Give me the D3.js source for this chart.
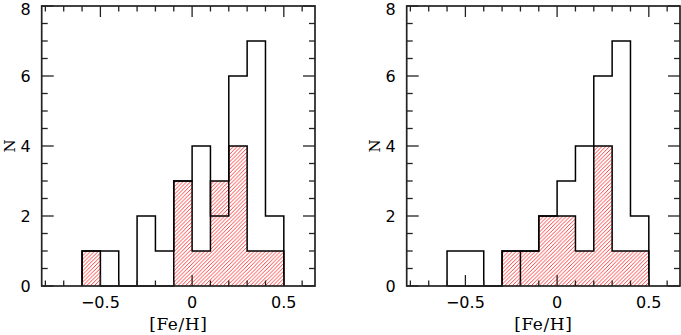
<!DOCTYPE html>
<html><head><meta charset="utf-8">
<script src="https://cdn.jsdelivr.net/npm/d3@7"></script>
<style>
body{margin:0;background:#fff;}
svg{display:block;}
</style></head>
<body>
<svg id="c" width="681" height="335"></svg>
<script>
// ---- data ----
const binEdges = [-0.6,-0.5,-0.4,-0.3,-0.2,-0.1,0,0.1,0.2,0.3,0.4,0.5];
const leftTotal  = [1,1,0,2,1,3,4,2,6,7,2];
const leftSub    = [1,0,0,0,0,3,1,3,4,1,1];
const rightTotal = [1,1,0,1,1,2,3,4,6,7,2];
const rightSub   = [0,0,0,1,1,2,2,1,4,1,1];
const leftDividers = [];
const rightDividers = [-0.2];
const xTickMajor = [-0.5, 0, 0.5];
const xTickLabels = ["\u22120.5", "0", "0.5"];
const xTickMinor = [-0.8,-0.7,-0.6,-0.4,-0.3,-0.2,-0.1,0.1,0.2,0.3,0.4,0.6];
const yTickMajor = [0,2,4,6,8];
const yTickMinor = [0.5,1,1.5,2.5,3,3.5,4.5,5,5.5,6.5,7,7.5];
const xLabel = "[Fe/H]";
const yLabel = "N";

const svg = d3.select("#c");
const defs = svg.append("defs");
const pat = defs.append("pattern").attr("id","hatch")
  .attr("patternUnits","userSpaceOnUse").attr("width",3.8).attr("height",3.8);
pat.append("path").attr("d","M-1,1 L1,-1 M0,3.8 L3.8,0 M2.8,4.8 L4.8,2.8")
  .attr("stroke","#ff2020").attr("stroke-width",0.85).attr("fill","none");

function panel(ox, total, sub, dividers){
  const x = d3.scaleLinear().domain([-0.82,0.67]).range([ox, ox+273.3]);
  const y = d3.scaleLinear().domain([0,8]).range([286,6]);
  const g = svg.append("g");

  function stepPts(vals){
    const pts = [[binEdges[0],0]];
    vals.forEach((v,i)=>{ pts.push([binEdges[i],v]); pts.push([binEdges[i+1],v]); });
    pts.push([binEdges[binEdges.length-1],0]);
    return pts;
  }
  const line = d3.line().x(d=>x(d[0])).y(d=>y(d[1]));
  const subPts = stepPts(sub);
  g.append("path").attr("d", line(subPts)+"Z").attr("fill","url(#hatch)").attr("stroke","none");
  g.append("path").attr("d", line(subPts)).attr("fill","none").attr("stroke","#000").attr("stroke-width",1.5);
  g.append("path").attr("d", line(stepPts(total))).attr("fill","none").attr("stroke","#000").attr("stroke-width",1.5);
  dividers.forEach(dv=>{
    const i = binEdges.findIndex(e=>Math.abs(e-dv)<1e-9);
    const h = Math.min(sub[i-1], sub[i]);
    g.append("line").attr("x1",x(dv)).attr("x2",x(dv)).attr("y1",y(0)).attr("y2",y(h))
      .attr("stroke","#000").attr("stroke-width",1.5);
  });

  // ticks
  const tk = g.append("g").attr("stroke","#222").attr("stroke-width",1.3);
  const xt = xTickMajor.map(v=>[v,11]).concat(xTickMinor.map(v=>[v,5.5]));
  xt.forEach(([v,l])=>{
    tk.append("line").attr("x1",x(v)).attr("x2",x(v)).attr("y1",y(0)).attr("y2",y(0)-l);
    tk.append("line").attr("x1",x(v)).attr("x2",x(v)).attr("y1",y(8)).attr("y2",y(8)+l);
  });
  const yt = yTickMajor.map(v=>[v,12]).concat(yTickMinor.map(v=>[v,6]));
  const [x0,x1] = x.range();
  yt.forEach(([v,l])=>{
    tk.append("line").attr("x1",x0).attr("x2",x0+l).attr("y1",y(v)).attr("y2",y(v));
    tk.append("line").attr("x1",x1).attr("x2",x1-l).attr("y1",y(v)).attr("y2",y(v));
  });
  // frame
  g.append("rect").attr("x",x0).attr("y",y(8)).attr("width",x1-x0).attr("height",y(0)-y(8))
    .attr("fill","none").attr("stroke","#222").attr("stroke-width",1.7);

  // labels
  const tf = "'DejaVu Sans', sans-serif";
  xTickMajor.forEach((v,i)=>{
    g.append("text").attr("x",x(v)).attr("y",308).attr("text-anchor","middle")
      .attr("font-family",tf).attr("font-size",16).attr("fill","#000").text(xTickLabels[i]);
  });
  yTickMajor.forEach(v=>{
    g.append("text").attr("x",x0-11).attr("y",Math.max(y(v),9)).attr("dy","0.36em").attr("text-anchor","end")
      .attr("font-family",tf).attr("font-size",16).attr("fill","#000").text(String(v));
  });
  g.append("text").attr("x",(x0+x1)/2).attr("y",330).attr("text-anchor","middle")
    .attr("font-family","'DejaVu Serif', serif").attr("font-size",17).attr("letter-spacing",0.6)
    .attr("fill","#000").text(xLabel);
  g.append("text").attr("transform",`translate(${x0-32},${y(4)}) rotate(-90)`).attr("text-anchor","middle")
    .attr("dy","0.36em").attr("font-family","'DejaVu Serif', serif").attr("font-size",15).attr("fill","#000").text(yLabel);
}
panel(41.7, leftTotal, leftSub, leftDividers);
panel(406.7, rightTotal, rightSub, rightDividers);
</script>
</body></html>
